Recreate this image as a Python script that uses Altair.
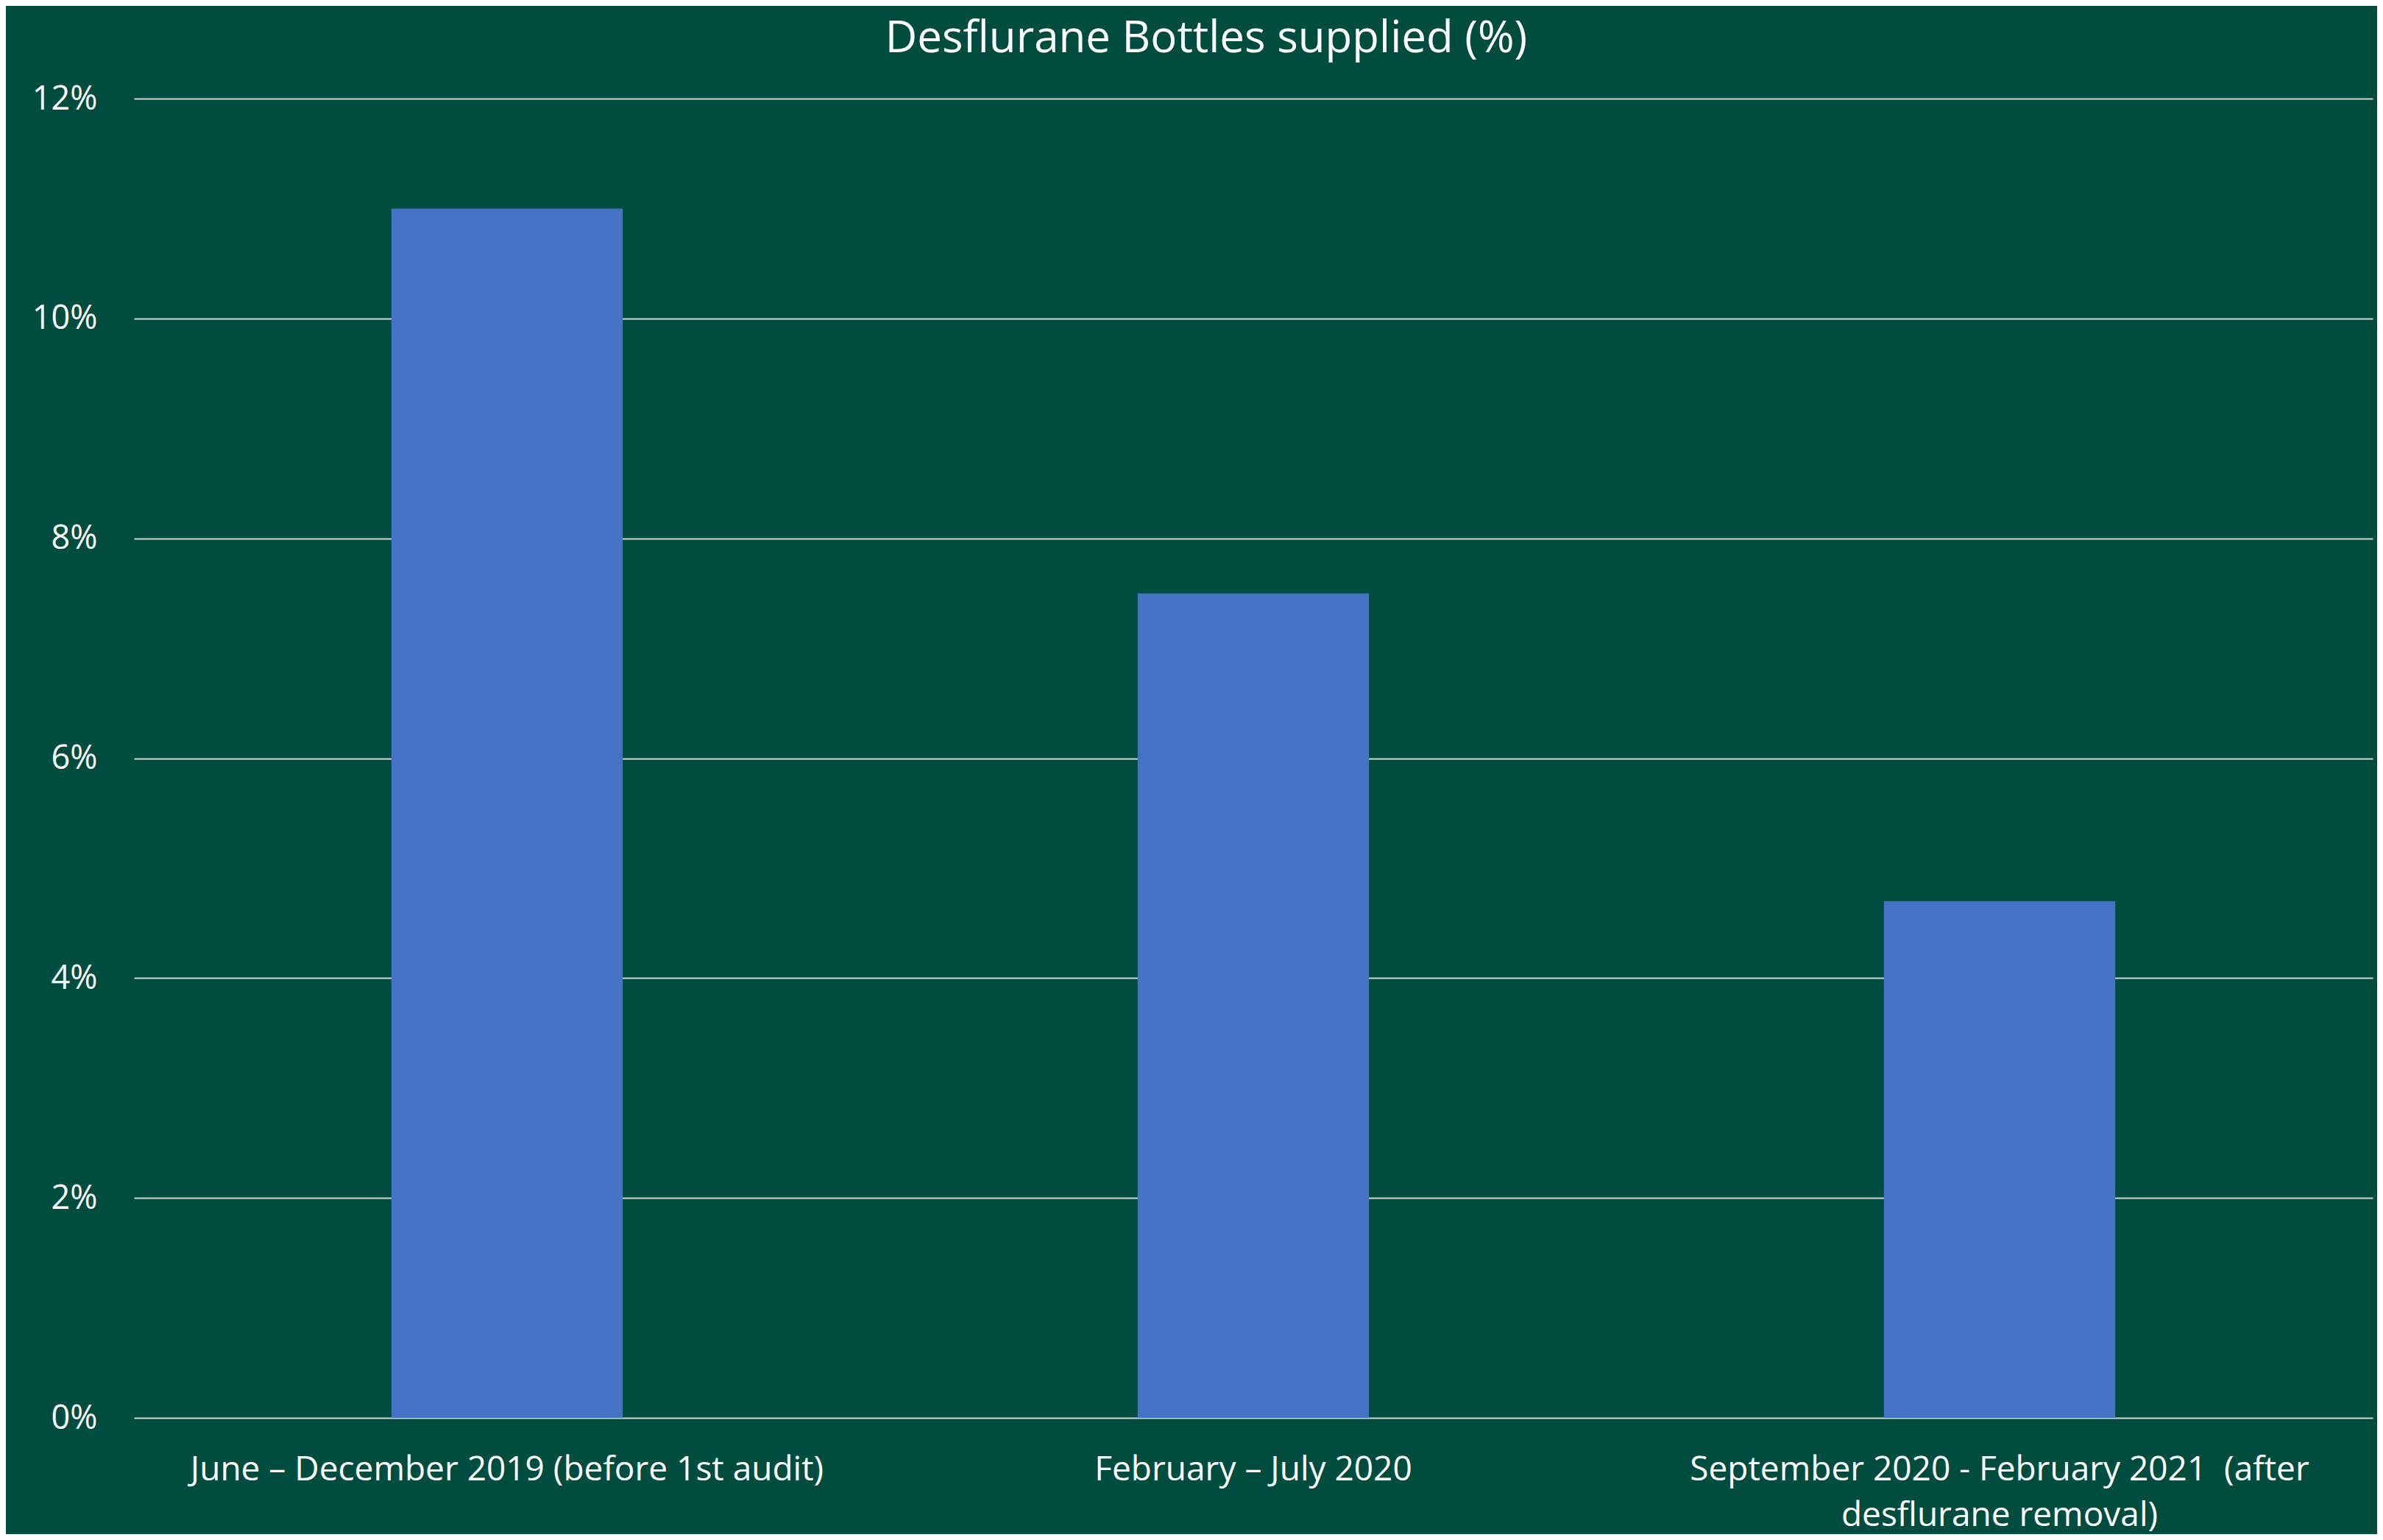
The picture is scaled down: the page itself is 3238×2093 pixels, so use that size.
import altair as alt
import pandas as pd

categories = [
    "June – December 2019 (before 1st audit)",
    "February – July 2020",
    "September 2020 - February 2021  (after desflurane removal)",
]
label_lines = [
    ["June – December 2019 (before 1st audit)"],
    ["February – July 2020"],
    ["September 2020 - February 2021 \u00a0(after", "desflurane removal)"],
]
values = [0.110, 0.075, 0.047]
y_ticks = [0, 0.02, 0.04, 0.06, 0.08, 0.10, 0.12]
title_text = "Desflurane Bottles supplied (%)"

df = pd.DataFrame({"period": categories, "share": values})

expr_parts = []
for cat, lines in zip(categories, label_lines):
    if len(lines) > 1:
        arr = "[" + ", ".join("'" + l + "'" for l in lines) + "]"
        expr_parts.append(f"datum.label == '{cat}' ? {arr}")
label_expr = " : ".join(expr_parts + ["datum.label"])

FONT = "Open Sans"
BG = "#004D40"

chart = (
    alt.Chart(df)
    .mark_bar(color="#4472C4")
    .encode(
        x=alt.X(
            "period:N",
            sort=categories,
            scale=alt.Scale(paddingInner=0.69, paddingOuter=0.345),
            axis=alt.Axis(
                title=None,
                labelAngle=0,
                domain=False,
                ticks=False,
                labelColor="white",
                labelFont=FONT,
                labelFontSize=46,
                labelPadding=48,
                labelLimit=1400,
                labelExpr=label_expr,
                labelLineHeight=62,
                labelBaseline="top",
            ),
        ),
        y=alt.Y(
            "share:Q",
            scale=alt.Scale(domain=[0, 0.12], nice=False),
            axis=alt.Axis(
                title=None,
                values=y_ticks,
                format=".0%",
                domain=False,
                ticks=False,
                grid=True,
                gridColor="#D0D6D4",
                gridWidth=2,
                labelColor="white",
                labelFont=FONT,
                labelFontSize=45,
                labelPadding=50,
            ),
        ),
    )
    .properties(
        width=3042,
        height=1793,
        background=BG,
        padding={"left": 174, "top": 126, "right": 6, "bottom": 158},
        autosize=alt.AutoSizeParams(type="none"),
        title=alt.TitleParams(
            title_text,
            font=FONT,
            fontSize=60,
            fontWeight="normal",
            color="white",
            anchor="middle",
            dx=-64,
            offset=28,
        ),
    )
    .configure_view(stroke=None)
)

chart.save("out.html", embed_options={"renderer": "svg", "actions": False})
